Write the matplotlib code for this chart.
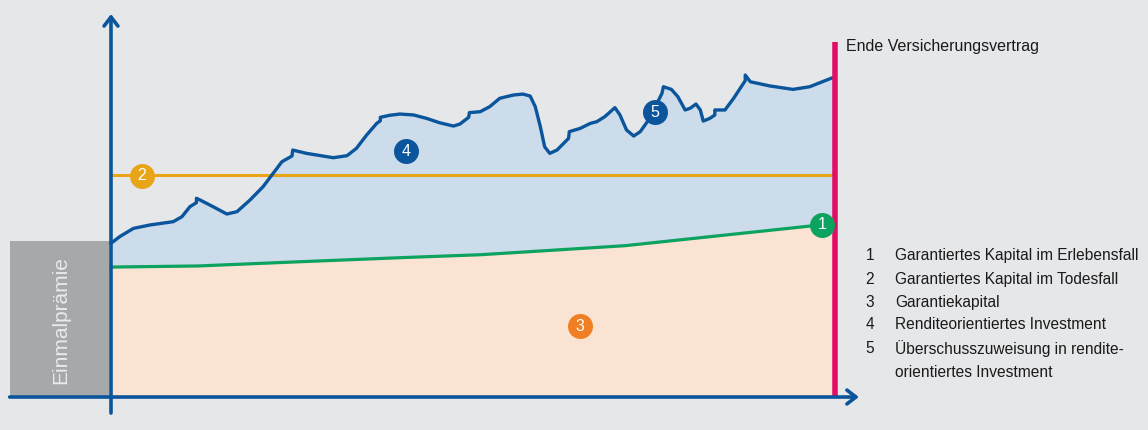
import matplotlib.pyplot as plt

plt.rcParams['font.family'] = ['Liberation Sans', 'DejaVu Sans']

# time axis: share of contract term in %, value axis: single premium = 100
einmalpraemie = 100

invest_x = [0, 1.2, 3.1, 5.4, 8.6, 9.8, 10.9, 11.8, 11.8, 12.3, 14.1, 16.0, 17.4, 19.2,
            21.0, 22.4, 23.6, 25.0, 25.1, 27.0, 30.7, 32.6, 33.9, 35.3, 36.7, 37.2,
            37.2, 38.5, 39.9, 41.8, 43.6, 45.4, 47.3, 48.2, 49.4, 49.5, 51.0, 52.3,
            53.7, 55.6, 56.9, 57.9, 58.6, 59.3, 59.9, 60.6, 61.6, 63.2, 63.3, 64.8,
            66.2, 67.1, 68.2, 69.6, 70.3, 71.2, 72.2, 73.1, 74.4, 76.1, 76.3, 77.4,
            78.3, 79.3, 80.0, 80.8, 81.4, 81.8, 82.7, 83.4, 83.4, 84.8, 86.0, 87.6,
            87.6, 88.3, 91.0, 94.2, 96.5, 100]
invest_y = [98.5, 102.8, 108.1, 110.3, 112.4, 115.6, 122.0, 124.6, 127.4, 126.3, 122.0,
            117.3, 118.8, 126.3, 134.8, 143.4, 150.8, 154.5, 158.3, 156.2, 153.4,
            154.7, 159.4, 167.9, 175.4, 177.1, 179.3, 180.6, 181.4, 180.8, 178.6,
            175.8, 173.7, 175.0, 179.3, 182.3, 182.9, 186.1, 191.5, 193.6, 194.2,
            192.9, 186.1, 173.3, 160.4, 156.2, 158.3, 165.8, 170.1, 172.2, 175.4,
            176.5, 179.7, 185.5, 180.8, 171.2, 167.3, 170.1, 178.6, 194.7, 198.9,
            197.2, 192.5, 184.0, 185.1, 187.8, 184.0, 176.9, 178.6, 180.8, 184.0,
            184.0, 191.5, 202.8, 206.4, 202.1, 199.4, 197.2, 198.9, 205.3]

garantie_x = [0, 12, 26, 41, 51, 71, 98, 100]
garantie_y = [83.3, 84.0, 86.7, 89.5, 91.2, 97.0, 110.3, 110.9]

todesfall = 142.3

labels = ["Garantiertes Kapital im Erlebensfall",
          "Garantiertes Kapital im Todesfall",
          "Garantiekapital",
          "Renditeorientiertes Investment",
          "Überschusszuweisung in rendite-",
          "orientiertes Investment"]

bg = '#E6E7E9'
blue = '#0B559D'
green = '#0CA25F'
orange = '#E9A518'
peach = '#F07E23'
magenta = '#E20E66'

fig = plt.figure(figsize=(11.48, 4.30), dpi=100)
fig.patch.set_facecolor(bg)
ax = fig.add_axes([0, 0, 1, 1])
ax.set_facecolor(bg)
ax.set_xlim(-15.33, 143.23)
ax.set_ylim(-21.15, 254.5)
ax.axis('off')

# areas
ax.fill_between(invest_x, invest_y, 0, color='#CCDCEA', lw=0, zorder=1)
ax.fill_between(garantie_x, garantie_y, 0, color='#FBE3D3', lw=0, zorder=2)
ax.fill_between([-14.0, -0.3], [einmalpraemie, einmalpraemie], 0, color='#A7A8AA', lw=0, zorder=2)
ax.text(-7.0, 49.4, "Einmalprämie", rotation=90, ha='center', va='center',
        fontsize=15, color='#EAEAEB', zorder=3)

# lines
ax.plot(garantie_x, garantie_y, color=green, lw=2.3, zorder=4)
ax.plot([0, 100], [todesfall, todesfall], color=orange, lw=2.2, zorder=4)
ax.plot(invest_x, invest_y, color=blue, lw=2.4, zorder=5, solid_joinstyle='round')
ax.plot([100, 100], [0, 227.6], color=magenta, lw=4, zorder=6, solid_capstyle='butt')

# axes arrows
arrow = dict(arrowstyle='->, head_length=0.65, head_width=0.5', color=blue, lw=2.6,
             shrinkA=0, shrinkB=0, mutation_scale=10)
ax.annotate('', xy=(103.3, 0), xytext=(-14.0, 0), arrowprops=arrow, zorder=7)
ax.annotate('', xy=(0, 245.5), xytext=(0, -10.3), arrowprops=arrow, zorder=7)

ax.text(101.5, 224.4, "Ende Versicherungsvertrag", ha='left', va='center',
        fontsize=11.5, color='#1A1A1A')

# numbered markers
markers = [("1", 98.2, 110.3, green), ("2", 4.3, 141.7, orange),
           ("3", 64.8, 45.5, peach), ("4", 40.7, 157.7, blue), ("5", 75.1, 182.7, blue)]
for num, mx, my, col in markers:
    ax.plot(mx, my, 'o', ms=18, color=col, mec='none', zorder=8)
    ax.text(mx, my, num, ha='center', va='center', color='white', fontsize=11.5, zorder=9)

# legend text
rows_y = [90.4, 75.6, 60.9, 46.2, 31.4, 16.0]
nums = ["1", "2", "3", "4", "5", ""]
for n, lab, ry in zip(nums, labels, rows_y):
    ax.text(104.8, ry, n, ha='center', va='center', fontsize=11.2, color='#1A1A1A')
    ax.text(108.3, ry, lab, ha='left', va='center', fontsize=11.2, color='#1A1A1A')

fig.savefig('out.png', dpi=100, facecolor=bg)
